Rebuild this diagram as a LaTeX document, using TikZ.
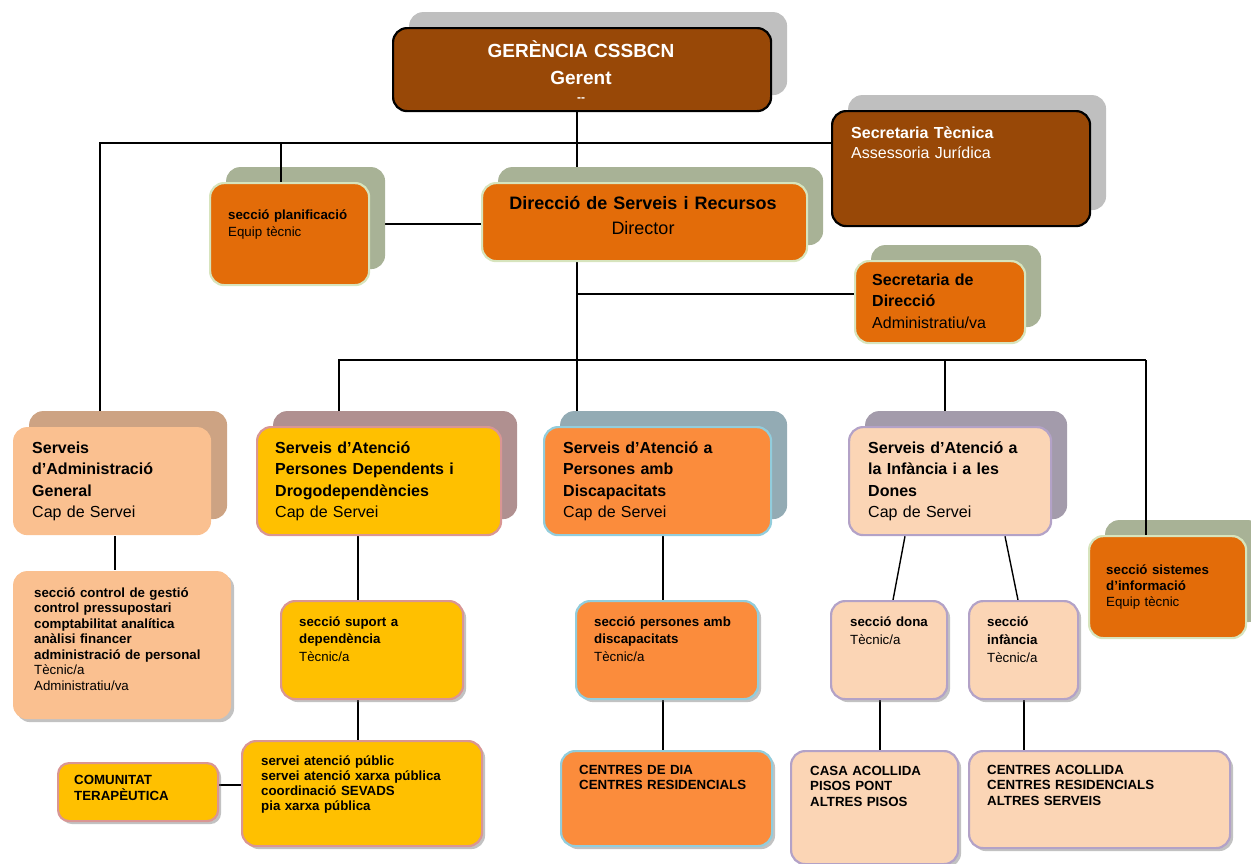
\documentclass[tikz,border=0pt]{standalone}
\usepackage{fontspec}
\setmainfont{Liberation Sans}
\usetikzlibrary{shadows,backgrounds}

\definecolor{cBrown}{HTML}{984807}
\definecolor{cShGray}{HTML}{BFBFBF}
\definecolor{cOrange}{HTML}{E36C09}
\definecolor{cShOlive}{HTML}{A8B296}
\definecolor{cGreenLn}{HTML}{D7E4BD}
\definecolor{cPeach}{HTML}{FAC090}
\definecolor{cShTan}{HTML}{CDA383}
\definecolor{cYellow}{HTML}{FFC000}
\definecolor{cPinkLn}{HTML}{D99694}
\definecolor{cShMauve}{HTML}{B09090}
\definecolor{cOrangeL}{HTML}{FB8C3C}
\definecolor{cBlueLn}{HTML}{92CDDC}
\definecolor{cShBlue}{HTML}{93ABB4}
\definecolor{cPale}{HTML}{FBD5B5}
\definecolor{cLavLn}{HTML}{B3A2C7}
\definecolor{cShLav}{HTML}{A39BAB}

\begin{document}
\begin{tikzpicture}[
    x=1pt, y=-1pt,
    box/.style={rectangle, rounded corners=14pt, anchor=north west, inner sep=0pt, line width=2.2pt},
    backbox/.style={general shadow={shadow xshift=16pt, shadow yshift=16pt, fill=#1, draw=none}},
    dropbox/.style={drop shadow={shadow xshift=3pt, shadow yshift=-3pt, fill=black!60, opacity=.4}},
    brownbox/.style={box, fill=cBrown, draw=black, backbox=cShGray},
    orangebox/.style={box, fill=cOrange, draw=cGreenLn, backbox=cShOlive},
    admbox/.style={box, fill=cPeach, draw=none},
    depbox/.style={box, fill=cYellow, draw=cPinkLn},
    disbox/.style={box, fill=cOrangeL, draw=cBlueLn},
    infbox/.style={box, fill=cPale, draw=cLavLn},
    link/.style={line width=1.4pt, black},
    txt/.style={anchor=base west, inner sep=0pt, text width=240pt, align=left},
    bigtxt/.style={txt, font=\fontsize{16}{21.5}\selectfont},
    smalltxt/.style={txt, font=\fontsize{13.3}{#1}\selectfont},
    smalltxt/.default=17,
  ]
  \useasboundingbox (0,0) rectangle (1251,863);

  % top level
  \node[brownbox, minimum width=378pt, minimum height=83pt] (ger) at (392,27) {};
  \node[brownbox, minimum width=258pt, minimum height=115pt] (stec) at (831,110) {};
  \node[orangebox, minimum width=159pt, minimum height=102pt] (plan) at (209,182) {};
  \node[orangebox, minimum width=325pt, minimum height=78pt] (dir) at (481,182) {};
  \node[orangebox, minimum width=170pt, minimum height=82pt] (sdir) at (854,260) {};

  % serveis
  \node[admbox, backbox=cShTan, minimum width=198pt, minimum height=108pt] (adm) at (12,426) {};
  \node[depbox, backbox=cShMauve, minimum width=244pt, minimum height=108pt] (dep) at (256,426) {};
  \node[disbox, backbox=cShBlue, minimum width=227pt, minimum height=108pt] (dis) at (543,426) {};
  \node[infbox, backbox=cShLav, minimum width=202pt, minimum height=108pt] (inf) at (848,426) {};
  \node[orangebox, minimum width=157pt, minimum height=102pt] (sist) at (1088,535) {};

  % seccions
  \node[admbox, dropbox, minimum width=218pt, minimum height=148pt] (ctl) at (12,570) {};
  \node[depbox, dropbox, minimum width=182pt, minimum height=98pt] (sup) at (280,600) {};
  \node[disbox, dropbox, minimum width=182pt, minimum height=98pt] (per) at (575,600) {};
  \node[infbox, dropbox, minimum width=116pt, minimum height=98pt] (dona) at (830,600) {};
  \node[infbox, dropbox, minimum width=109pt, minimum height=98pt] (infs) at (968,600) {};

  % centres
  \node[depbox, dropbox, minimum width=240pt, minimum height=105pt] (serv) at (241,740) {};
  \node[depbox, dropbox, rounded corners=11pt, minimum width=160pt, minimum height=58pt] (com) at (57,762) {};
  \node[disbox, dropbox, minimum width=211pt, minimum height=95pt] (cdia) at (560,750) {};
  \node[infbox, dropbox, minimum width=167pt, minimum height=113pt] (casa) at (790,750) {};
  \node[infbox, dropbox, minimum width=261pt, minimum height=97pt] (cac) at (968,750) {};

  % texts
  \node[anchor=base, inner sep=0pt, text width=370pt, align=center, text=white,
        font=\fontsize{19}{27}\selectfont] (gerT) at (581,57) {\textbf{GERÈNCIA CSSBCN}\\\textbf{Gerent}};
  \node[anchor=base, inner sep=0pt, text=white, font=\fontsize{12}{12}\selectfont] (gerD) at (581,101) {\textbf{-{}-}};
  \node[txt, text=white, font=\fontsize{16}{20}\selectfont] (stecT) at (851,138) {\textbf{Secretaria Tècnica}\\Assessoria Jurídica};
  \node[smalltxt] (planT) at (228,219) {\textbf{secció planificació}\\Equip tècnic};
  \node[anchor=base, inner sep=0pt, text width=320pt, align=center,
        font=\fontsize{18}{25}\selectfont] (dirT) at (643,209) {\textbf{Direcció de Serveis i Recursos}\\Director};
  \node[bigtxt] (sdirT) at (872,285) {\textbf{Secretaria de\\Direcció}\\Administratiu/va};

  \node[bigtxt] (admT) at (32,453) {\textbf{Serveis\\d’Administració\\General}\\Cap de Servei};
  \node[bigtxt] (depT) at (275,453) {\textbf{Serveis d’Atenció\\Persones Dependents i\\Drogodependències}\\Cap de Servei};
  \node[bigtxt] (disT) at (563,453) {\textbf{Serveis d’Atenció a\\Persones amb\\Discapacitats}\\Cap de Servei};
  \node[bigtxt] (infT) at (868,453) {\textbf{Serveis d’Atenció a\\la Infància i a les\\Dones}\\Cap de Servei};
  \node[smalltxt=16] (sistT) at (1106,574) {\textbf{secció sistemes\\d’informació}\\Equip tècnic};

  \node[smalltxt=15.5] (ctlT) at (34,597) {\textbf{secció control de gestió\\control pressupostari\\comptabilitat analítica\\anàlisi financer\\administració de personal}\\Tècnic/a\\Administratiu/va};
  \node[smalltxt=17.5] (supT) at (299,626) {\textbf{secció suport a\\dependència}\\Tècnic/a};
  \node[smalltxt=17.5] (perT) at (594,626) {\textbf{secció persones amb\\discapacitats}\\Tècnic/a};
  \node[smalltxt=18] (donaT) at (850,626) {\textbf{secció dona}\\Tècnic/a};
  \node[smalltxt=18] (infsT) at (987,626) {\textbf{secció\\infància}\\Tècnic/a};

  \node[smalltxt=15.3] (servT) at (261,765) {\textbf{servei atenció públic\\servei atenció xarxa pública\\coordinació SEVADS\\pia xarxa pública}};
  \node[smalltxt=16] (comT) at (74,784) {\textbf{COMUNITAT\\TERAPÈUTICA}};
  \node[smalltxt=15.5] (cdiaT) at (579,774) {\textbf{CENTRES DE DIA\\CENTRES RESIDENCIALS}};
  \node[smalltxt=15.5] (casaT) at (810,775) {\textbf{CASA ACOLLIDA\\PISOS PONT\\ALTRES PISOS}};
  \node[smalltxt=15.5] (cacT) at (987,774) {\textbf{CENTRES ACOLLIDA\\CENTRES RESIDENCIALS\\ALTRES SERVEIS}};

  % connectors
  \coordinate (spine) at (577,143);
  \coordinate (topbar) at (100,143);
  \coordinate (planx) at (281,143);
  \coordinate (planlink) at (0,224);
  \coordinate (sdirlink) at (577,294);
  \coordinate (midL) at (339,360);
  \coordinate (midR) at (1146,360);
  \coordinate (infbar) at (945,360);
  \coordinate (admx) at (115,0);
  \coordinate (depx) at (358,0);
  \coordinate (disx) at (663,0);
  \coordinate (infa) at (905,0);
  \coordinate (infb) at (1005,0);
  \coordinate (donaa) at (893,0);
  \coordinate (infsa) at (1018,0);
  \coordinate (donax) at (880,0);
  \coordinate (infsx) at (1024,0);
  \coordinate (comlink) at (0,785);

  \begin{scope}[on background layer]
    \draw[link] (ger.south -| spine) -- (dir.north -| spine);
    \draw[link] (adm.north -| topbar) -- (topbar) -- (topbar -| stec.west);
    \draw[link] (plan.east |- planlink) -- (dir.west |- planlink);
    \draw[link] (dir.south -| spine) -- (dis.north -| spine);
    \draw[link] (sdirlink) -- (sdir.west |- sdirlink);
    \draw[link] (dep.north -| midL) -- (midL) -- (midR);
    \draw[link] (inf.north -| infbar) -- (infbar);
    \draw[link] (adm.south -| admx) -- (ctl.north -| admx);
    \draw[link] (dep.south -| depx) -- (sup.north -| depx);
    \draw[link] (sup.south -| depx) -- (serv.north -| depx);
    \draw[link] (dis.south -| disx) -- (per.north -| disx);
    \draw[link] (per.south -| disx) -- (cdia.north -| disx);
    \draw[link] (inf.south -| infa) -- (dona.north -| donaa);
    \draw[link] (inf.south -| infb) -- (infs.north -| infsa);
    \draw[link] (dona.south -| donax) -- (casa.north -| donax);
    \draw[link] (infs.south -| infsx) -- (cac.north -| infsx);
    \draw[link] (com.east |- comlink) -- (serv.west |- comlink);
  \end{scope}
  \draw[link] (planx) -- (plan.north -| planx);
  \draw[link] (midR) -- (sist.north -| midR);
\end{tikzpicture}
\end{document}
